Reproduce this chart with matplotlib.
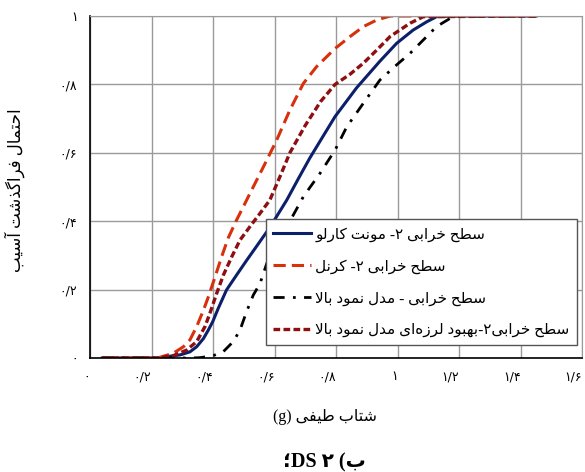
import matplotlib
matplotlib.use('Agg')
import matplotlib.pyplot as plt

# --- data ---
x_mc = [0.04, 0.22, 0.249, 0.293, 0.325, 0.347, 0.369, 0.385, 0.399, 0.417, 0.444, 0.477, 0.509,
        0.542, 0.585, 0.618, 0.640, 0.678, 0.715, 0.759, 0.797, 0.867, 0.943, 0.997, 1.051, 1.095,
        1.127, 1.2, 1.45]
y_mc = [0, 0, 0.004, 0.009, 0.018, 0.033, 0.057, 0.082, 0.106, 0.145, 0.199, 0.243, 0.285,
        0.327, 0.382, 0.43, 0.462, 0.525, 0.585, 0.65, 0.706, 0.79, 0.868, 0.92, 0.959, 0.983,
        0.998, 1, 1]

x_kernel = [0.04, 0.22, 0.271, 0.304, 0.325, 0.347, 0.369, 0.385, 0.407, 0.428, 0.45, 0.477, 0.504,
            0.515, 0.564, 0.607, 0.650, 0.694, 0.737, 0.797, 0.846, 0.889, 0.932, 0.976, 1.45]
y_kernel = [0, 0, 0.014, 0.033, 0.053, 0.092, 0.14, 0.179, 0.238, 0.296, 0.352, 0.404, 0.452,
            0.472, 0.559, 0.637, 0.725, 0.803, 0.852, 0.905, 0.94, 0.969, 0.988, 1.0, 1.0]

x_model = [0.04, 0.33, 0.358, 0.401, 0.434, 0.466, 0.488, 0.509, 0.531, 0.553, 0.575, 0.694, 0.748,
           0.797, 0.835, 0.889, 0.943, 0.997, 1.041, 1.084, 1.127, 1.171, 1.203, 1.45]
y_model = [0, 0, 0.001, 0.007, 0.019, 0.048, 0.082, 0.135, 0.184, 0.218, 0.277, 0.472, 0.540,
           0.608, 0.676, 0.745, 0.813, 0.857, 0.891, 0.93, 0.969, 0.993, 1.0, 1.0]

x_improved = [0.04, 0.22, 0.271, 0.314, 0.347, 0.374, 0.39, 0.412, 0.434, 0.461, 0.488, 0.52, 0.553,
              0.585, 0.62, 0.65, 0.70, 0.75, 0.797, 0.846, 0.889, 0.932, 0.976, 1.041,
              1.084, 1.45]
y_improved = [0, 0, 0.007, 0.023, 0.048, 0.092, 0.131, 0.189, 0.243, 0.296, 0.345, 0.384, 0.423,
              0.462, 0.535, 0.6, 0.68, 0.75, 0.80, 0.83, 0.862, 0.90, 0.94, 0.979,
              0.998, 1.0]

ticks = [0, 0.2, 0.4, 0.6, 0.8, 1.0, 1.2, 1.4, 1.6]
tick_labels = ['۰', '۰/۲', '۰/۴', '۰/۶', '۰/۸', '۱', '۱/۲', '۱/۴', '۱/۶']

labels = ['سطح خرابی ۲- مونت کارلو',
          'سطح خرابی ۲- کرنل',
          'سطح خرابی - مدل نمود بالا',
          'سطح خرابی۲-بهبود لرزه\u200cای مدل نمود بالا']


# matplotlib has no arabic shaping, so do it by hand:
# (isolated, final, initial, medial) presentation forms
FORMS = {
    'ا': ('\uFE8D', '\uFE8E', None, None),
    'آ': ('\uFE81', '\uFE82', None, None),
    'ب': ('\uFE8F', '\uFE90', '\uFE91', '\uFE92'),
    'ت': ('\uFE95', '\uFE96', '\uFE97', '\uFE98'),
    'ح': ('\uFEA1', '\uFEA2', '\uFEA3', '\uFEA4'),
    'خ': ('\uFEA5', '\uFEA6', '\uFEA7', '\uFEA8'),
    'د': ('\uFEA9', '\uFEAA', None, None),
    'ذ': ('\uFEAB', '\uFEAC', None, None),
    'ر': ('\uFEAD', '\uFEAE', None, None),
    'ز': ('\uFEAF', '\uFEB0', None, None),
    'س': ('\uFEB1', '\uFEB2', '\uFEB3', '\uFEB4'),
    'ش': ('\uFEB5', '\uFEB6', '\uFEB7', '\uFEB8'),
    'ط': ('\uFEC1', '\uFEC2', '\uFEC3', '\uFEC4'),
    'ف': ('\uFED1', '\uFED2', '\uFED3', '\uFED4'),
    'ل': ('\uFEDD', '\uFEDE', '\uFEDF', '\uFEE0'),
    'م': ('\uFEE1', '\uFEE2', '\uFEE3', '\uFEE4'),
    'ن': ('\uFEE5', '\uFEE6', '\uFEE7', '\uFEE8'),
    'ه': ('\uFEE9', '\uFEEA', '\uFEEB', '\uFEEC'),
    'و': ('\uFEED', '\uFEEE', None, None),
    'ی': ('\uFBFC', '\uFBFD', '\uFBFE', '\uFBFF'),
    'ک': ('\uFB8E', '\uFB8F', '\uFB90', '\uFB91'),
    'گ': ('\uFB92', '\uFB93', '\uFB94', '\uFB95'),
}
LAM_ALEF = {'ا': ('\uFEFB', '\uFEFC'), 'آ': ('\uFEF5', '\uFEF6')}


def fa(text):
    chars = list(text)
    out = []
    i = 0
    while i < len(chars):
        c = chars[i]
        if c not in FORMS:
            if c != '\u200c':
                out.append(c)
            i += 1
            continue
        prev = chars[i - 1] if i > 0 else None
        joins_prev = prev in FORMS and FORMS[prev][2] is not None
        if c == 'ل' and i + 1 < len(chars) and chars[i + 1] in LAM_ALEF:
            out.append(LAM_ALEF[chars[i + 1]][1 if joins_prev else 0])
            i += 2
            continue
        nxt = chars[i + 1] if i + 1 < len(chars) else None
        joins_next = FORMS[c][2] is not None and nxt in FORMS
        iso, fin, ini, med = FORMS[c]
        if joins_prev and joins_next:
            out.append(med)
        elif joins_prev:
            out.append(fin)
        elif joins_next:
            out.append(ini)
        else:
            out.append(iso)
        i += 1
    s = ''.join(reversed(out))
    return s.translate(str.maketrans('()', ')('))


FONT = ['Liberation Serif', 'DejaVu Sans']
plt.rcParams['font.family'] = FONT

fig = plt.figure(figsize=(5.85, 4.72), dpi=100)
ax = fig.add_axes([90 / 585, 1 - 358 / 472, 492 / 585, 342 / 472])

ax.plot(x_mc, y_mc, color='#0b1f6b', lw=2.2, label=fa(labels[0]))
ax.plot(x_kernel, y_kernel, color='#d8300c', lw=2.2, dashes=(4, 2), label=fa(labels[1]))
ax.plot(x_model, y_model, color='black', lw=2.0, dashes=(4, 3, 1, 3), label=fa(labels[2]))
ax.plot(x_improved, y_improved, color='#8e0f12', lw=2.4, dashes=(2, 1), label=fa(labels[3]))

ax.set_xlim(0, 1.6)
ax.set_ylim(0, 1)
ax.set_xticks(ticks)
ax.set_yticks(ticks[:6])
ax.set_xticklabels(tick_labels, family='DejaVu Sans', fontsize=9, ha='right')
ax.set_yticklabels(tick_labels[:6], family='DejaVu Sans', fontsize=9)
ax.tick_params(length=0, pad=9)
ax.grid(True, color='#9a9a9a', lw=1)
ax.set_axisbelow(True)
for s in ['top', 'right']:
    ax.spines[s].set_color('#9a9a9a')
for s in ['left', 'bottom']:
    ax.spines[s].set_linewidth(1.2)

leg = ax.legend(loc='lower right', bbox_to_anchor=(0.99, 0.038), borderaxespad=0,
                fontsize=11, handlelength=2.5, handletextpad=0.25, labelspacing=1.15,
                fancybox=False, framealpha=1, edgecolor='#555555',
                borderpad=0.5)
leg.get_frame().set_linewidth(1)

fig.text(15 / 585, 1 - 190 / 472, fa('احتمال فراگذشت آسیب'), rotation=90,
         ha='center', va='center', fontsize=12)
fig.text(325 / 585, 1 - 417 / 472, '(g) ' + fa('شتاب طیفی'), ha='center', va='center',
         fontsize=11.5)
fig.text(324 / 585, 1 - 462 / 472, '؛DS' + fa('ب) ۲ '), ha='center', va='center',
         fontsize=14.5, fontweight='bold')

fig.savefig('out.png', dpi=100)
